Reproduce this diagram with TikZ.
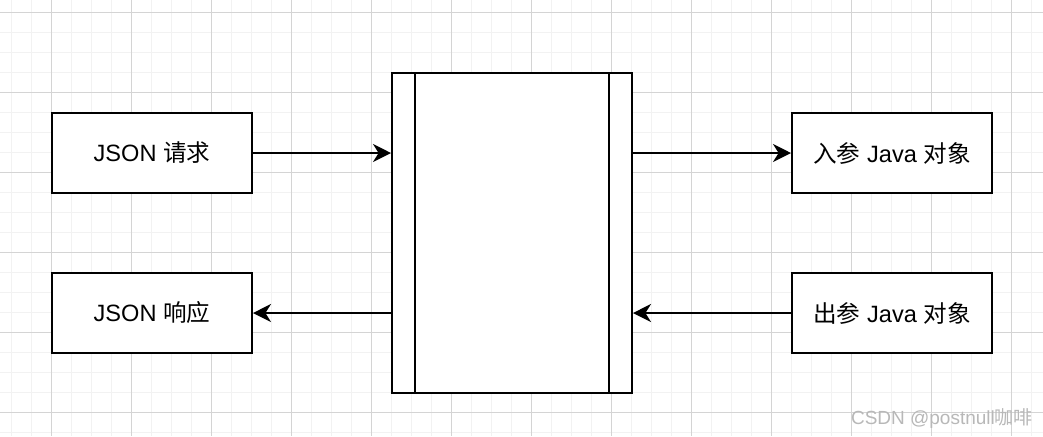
\documentclass[tikz,border=0pt]{standalone}
\usepackage{fontspec}
\setmainfont{Liberation Sans}
\newfontfamily\cjk{Noto Sans CJK SC}
\usetikzlibrary{arrows.meta,positioning,calc}
\definecolor{gridminor}{HTML}{F2F2F2}
\definecolor{gridmajor}{HTML}{D4D4D4}
\definecolor{mark}{HTML}{B8B8B8}

\begin{document}
\begin{tikzpicture}[x=0.5pt, y=-0.5pt,
      box/.style={draw, line width=1pt, fill=white, minimum width=100pt, minimum height=40pt,
                  font=\fontsize{11.8pt}{14pt}\selectfont},
      flow/.style={-{Stealth[length=9pt, width=9pt, inset=2.8pt]}, line width=1pt}
    ]
      % background grid
      \useasboundingbox (0,0) rectangle (1043,436);
      \fill[white] (0,0) rectangle (1043,436);
      \foreach \gx in {11,31,...,1031}
        \draw[gridminor, line width=0.5pt] (\gx,0) -- (\gx,436);
      \foreach \gy in {12,32,...,432}
        \draw[gridminor, line width=0.5pt] (0,\gy) -- (1043,\gy);
      \foreach \gx in {51,131,...,1011}
        \draw[gridmajor, line width=0.5pt] (\gx,0) -- (\gx,436);
      \foreach \gy in {12,92,...,412}
        \draw[gridmajor, line width=0.5pt] (0,\gy) -- (1043,\gy);

      % boxes
      \node[box] (req) at (152,153) {JSON {\cjk 请求}};
      \node[box] (resp) at (152,313) {JSON {\cjk 响应}};
      \node[box] (inobj) at (892,153) {{\cjk 入参} Java {\cjk 对象}};
      \node[box] (outobj) at (892,313) {{\cjk 出参} Java {\cjk 对象}};

      \node[draw, line width=1pt, fill=white, minimum width=120pt, minimum height=160pt]
        (proc) at (512,233) {};
      \draw[line width=1pt] ([xshift=12pt]proc.north west) -- ([xshift=12pt]proc.south west);
      \draw[line width=1pt] ([xshift=-12pt]proc.north east) -- ([xshift=-12pt]proc.south east);

      % connectors
      \draw[flow] (req.east) -- (req.east -| proc.west);
      \draw[flow] (resp.east -| proc.west) -- (resp.east);
      \draw[flow] (inobj.west -| proc.east) -- (inobj.west);
      \draw[flow] (outobj.west) -- (outobj.west -| proc.east);

      % watermark
      \node[text=mark, font=\fontsize{9.5pt}{11pt}\selectfont, anchor=east]
        (wm) at (1040,419) {CSDN @postnull{\cjk 咖啡}};
    \end{tikzpicture}
\end{document}
